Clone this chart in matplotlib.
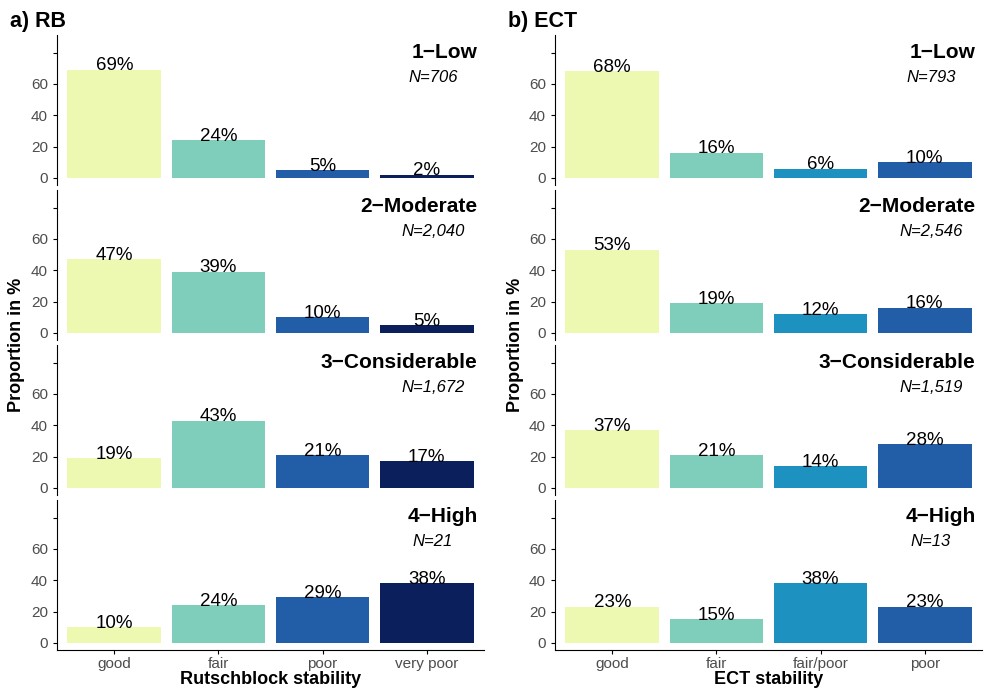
import matplotlib
matplotlib.use("Agg")
import matplotlib.pyplot as plt

plt.rcParams['font.family'] = ['Liberation Sans', 'DejaVu Sans']

levels = ["1\u2212Low", "2\u2212Moderate", "3\u2212Considerable", "4\u2212High"]
rb_cats = ["good", "fair", "poor", "very poor"]
rb_vals = [[69, 24, 5, 2], [47, 39, 10, 5], [19, 43, 21, 17], [10, 24, 29, 38]]
rb_n = ["N=706", "N=2,040", "N=1,672", "N=21"]
ect_cats = ["good", "fair", "fair/poor", "poor"]
ect_vals = [[68, 16, 6, 10], [53, 19, 12, 16], [37, 21, 14, 28], [23, 15, 38, 23]]
ect_n = ["N=793", "N=2,546", "N=1,519", "N=13"]

rb_cols = ["#EDF8B1", "#7FCDBB", "#225EA8", "#0A1F5C"]
ect_cols = ["#EDF8B1", "#7FCDBB", "#1D91C0", "#225EA8"]

fig = plt.figure(figsize=(9.92, 6.9), dpi=100)
W, H = 992, 690
tops = [35, 190, 345, 500]
fh = 150

def panel(x0, x1, cats, vals, ns, cols, title, xlabel):
    for i in range(4):
        ax = fig.add_axes([x0 / W, 1 - (tops[i] + fh) / H, (x1 - x0) / W, fh / H])
        ax.bar(range(4), vals[i], color=cols, width=0.9)
        for j, v in enumerate(vals[i]):
            ax.text(j, v + 2.5, f"{v}%", ha="center", va="center", fontsize=13.5,
                    color="black")
        ax.set_xlim(-0.55, 3.55)
        ax.set_ylim(-4.5, 91.2)
        ax.set_yticks([0, 20, 40, 60, 80])
        ax.set_yticklabels(["0", "20", "40", "60", ""], color="#4D4D4D", fontsize=11)
        ax.tick_params(axis="y", length=3)
        for s in ["top", "right", "bottom"]:
            ax.spines[s].set_visible(False)
        ax.text(0.985, 0.95, levels[i], transform=ax.transAxes, ha="right", va="top",
                fontsize=15, fontweight="bold")
        ax.text(0.88, 0.72, ns[i], transform=ax.transAxes, ha="center", va="center",
                fontsize=12, style="italic")
        if i < 3:
            ax.set_xticks([])
        else:
            ax.spines["bottom"].set_visible(True)
            ax.set_xticks(range(4))
            ax.set_xticklabels(cats, color="#4D4D4D", fontsize=11)
            ax.tick_params(axis="x", length=3, pad=2)
            ax.set_xlabel(xlabel, fontsize=13, fontweight="bold", labelpad=0)
        if i == 0:
            ax.text(-0.11, 1.02, title, transform=ax.transAxes, ha="left", va="bottom",
                    fontsize=15.5, fontweight="bold")
    fig.text((x0 - 40) / W, 1 - 345 / H, "Proportion in %", rotation=90,
             ha="center", va="center", fontsize=13, fontweight="bold")

panel(57, 484, rb_cats, rb_vals, rb_n, rb_cols, "a) RB", "Rutschblock stability")
panel(555, 982, ect_cats, ect_vals, ect_n, ect_cols, "b) ECT", "ECT stability")

fig.savefig("out.png", dpi=100)
